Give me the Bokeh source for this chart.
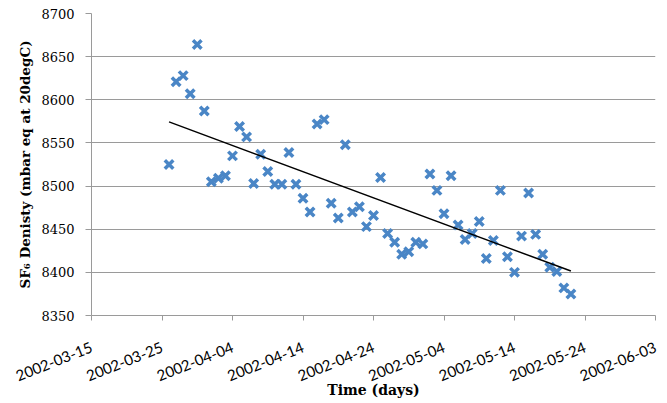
import numpy as np
import pandas as pd
from bokeh.plotting import figure
from bokeh.models import Range1d, FixedTicker, DatetimeTickFormatter, ColumnDataSource
from bokeh.embed import file_html
from bokeh.resources import INLINE

# ---- data ----
dates = [
    "2002-03-26", "2002-03-27", "2002-03-28", "2002-03-29", "2002-03-30", "2002-03-31",
    "2002-04-01", "2002-04-02", "2002-04-03", "2002-04-04", "2002-04-05", "2002-04-06",
    "2002-04-07", "2002-04-08", "2002-04-09", "2002-04-10", "2002-04-11", "2002-04-12",
    "2002-04-13", "2002-04-14", "2002-04-15", "2002-04-16", "2002-04-17", "2002-04-18",
    "2002-04-19", "2002-04-20", "2002-04-21", "2002-04-22", "2002-04-23", "2002-04-24",
    "2002-04-25", "2002-04-26", "2002-04-27", "2002-04-28", "2002-04-29", "2002-04-30",
    "2002-05-01", "2002-05-02", "2002-05-03", "2002-05-04", "2002-05-05", "2002-05-06",
    "2002-05-07", "2002-05-08", "2002-05-09", "2002-05-10", "2002-05-11", "2002-05-12",
    "2002-05-13", "2002-05-14", "2002-05-15", "2002-05-16", "2002-05-17", "2002-05-18",
    "2002-05-19", "2002-05-20", "2002-05-21", "2002-05-22",
]
density = [
    8525, 8621, 8628, 8607, 8664, 8587,
    8505, 8509, 8512, 8535, 8569, 8557,
    8503, 8537, 8517, 8502, 8502, 8539,
    8502, 8486, 8470, 8572, 8577, 8480,
    8463, 8548, 8470, 8476, 8453, 8466,
    8510, 8445, 8435, 8421, 8424, 8435,
    8433, 8514, 8495, 8468, 8512, 8455,
    8438, 8445, 8459, 8416, 8437, 8495,
    8418, 8400, 8442, 8492, 8444, 8421,
    8406, 8401, 8382, 8375,
]
x_tick_labels = ["2002-03-15", "2002-03-25", "2002-04-04", "2002-04-14", "2002-04-24",
                 "2002-05-04", "2002-05-14", "2002-05-24", "2002-06-03"]
y_ticks = [8350, 8400, 8450, 8500, 8550, 8600, 8650, 8700]

# ---- derived ----
dt = pd.to_datetime(dates)
tick_dt = pd.to_datetime(x_tick_labels)
tick_ms = [float(t.value // 10**6) for t in tick_dt]
x_ms = [float(t.value // 10**6) for t in dt]

day_num = np.array([(t - dt[0]).days for t in dt], dtype=float)
slope, intercept = np.polyfit(day_num, np.array(density, dtype=float), 1)
trend_x = [x_ms[0], x_ms[-1]]
trend_y = [intercept + slope * day_num[0], intercept + slope * day_num[-1]]

src = ColumnDataSource(dict(x=x_ms, y=density))

p = figure(width=659, height=403, x_axis_type="datetime",
           output_backend="svg", toolbar_location=None,
           x_range=Range1d(tick_ms[0], tick_ms[-1]),
           y_range=Range1d(y_ticks[0], y_ticks[-1]),
           min_border_left=91, min_border_right=4,
           min_border_top=13, min_border_bottom=88)
p.outline_line_color = None
p.background_fill_color = "white"
p.border_fill_color = "white"

# grid
p.xgrid.visible = False
p.ygrid.grid_line_color = "#9a9a9a"
p.ygrid.grid_line_width = 1
p.ygrid.ticker = FixedTicker(ticks=y_ticks)

# x axis
xax = p.xaxis[0]
xax.ticker = FixedTicker(ticks=tick_ms)
fmt = "%Y-%m-%d"
xax.formatter = DatetimeTickFormatter(days=fmt, months=fmt, years=fmt, hours=fmt,
                                      minutes=fmt, seconds=fmt, milliseconds=fmt,
                                      microseconds=fmt, hourmin=fmt, minsec=fmt)
xax.major_label_orientation = 0.38
xax.major_label_text_font = "Lato"
xax.major_label_text_font_size = "15px"
xax.major_label_text_color = "#000000"
xax.major_label_standoff = 26
xax.axis_line_color = "#9a9a9a"
xax.major_tick_line_color = "#9a9a9a"
xax.major_tick_out = 5
xax.major_tick_in = 0
xax.minor_tick_line_color = None
xax.axis_label = "Time (days)"
xax.axis_label_text_font = "DejaVu Serif"
xax.axis_label_text_font_style = "bold"
xax.axis_label_text_font_size = "14px"
xax.axis_label_text_color = "#000000"
xax.axis_label_standoff = -8

# y axis
yax = p.yaxis[0]
yax.ticker = FixedTicker(ticks=y_ticks)
yax.major_label_text_font = "DejaVu Serif"
yax.major_label_text_font_size = "13px"
yax.major_label_text_color = "#000000"
yax.major_label_standoff = 11
yax.axis_line_color = "#9a9a9a"
yax.major_tick_line_color = "#9a9a9a"
yax.major_tick_out = 6
yax.major_tick_in = 0
yax.minor_tick_line_color = None
yax.axis_label = "SF\u2086 Denisty (mbar eq at 20degC)"
yax.axis_label_text_font = "DejaVu Serif"
yax.axis_label_text_font_style = "bold"
yax.axis_label_text_font_size = "13.5px"
yax.axis_label_text_color = "#000000"
yax.axis_label_standoff = 5

# data
p.scatter("x", "y", source=src, marker="x", size=12, line_width=3.5,
          line_color="#4a86c6")
p.line(trend_x, trend_y, line_color="black", line_width=1.5)

open("out.html", "w").write(file_html(p, INLINE))
